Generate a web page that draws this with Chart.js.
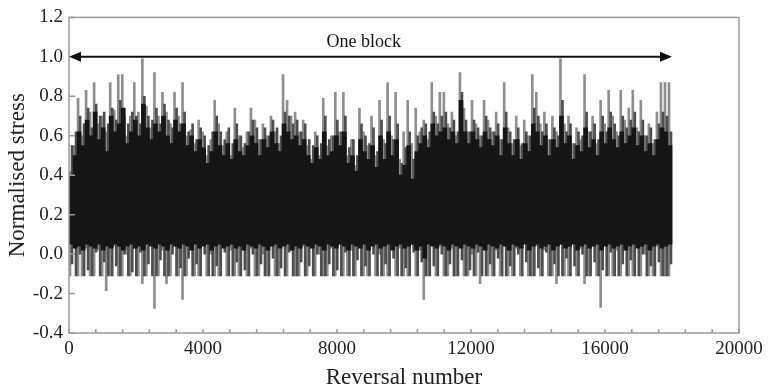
<!DOCTYPE html>
<html>
<head>
<meta charset="utf-8">
<script src="https://cdn.jsdelivr.net/npm/chart.js@4.4.0/dist/chart.umd.min.js"></script>
<style>
  html, body { margin: 0; padding: 0; background: #fff; }
  #wrap { width: 768px; height: 392px; }
</style>
</head>
<body>
<div id="wrap"><canvas id="stressChart"></canvas></div>
<script>
// Reversal history, in bins of 120 reversals (150 bins = one block)
const binSize = 120;

// extreme peak / trough reached in each bin (thin grey lines)
const peaks = [
  0.42, 0.55, 0.79, 0.60, 0.83, 0.72, 0.87, 0.66, 0.70, 0.62,
  0.87, 0.73, 0.91, 0.91, 0.60, 0.70, 0.87, 0.72, 0.99, 0.75,
  0.64, 0.92, 0.70, 0.82, 0.72, 0.66, 0.82, 0.70, 0.87, 0.60,
  0.63, 0.56, 0.68, 0.62, 0.50, 0.58, 0.78, 0.66, 0.55, 0.62,
  0.50, 0.74, 0.60, 0.54, 0.62, 0.74, 0.68, 0.58, 0.66, 0.60,
  0.70, 0.62, 0.56, 0.91, 0.78, 0.70, 0.72, 0.62, 0.68, 0.55,
  0.48, 0.62, 0.50, 0.79, 0.55, 0.60, 0.82, 0.62, 0.82, 0.50,
  0.58, 0.45, 0.74, 0.62, 0.55, 0.70, 0.50, 0.78, 0.58, 0.87,
  0.60, 0.82, 0.48, 0.62, 0.78, 0.56, 0.74, 0.62, 0.68, 0.58,
  0.87, 0.70, 0.82, 0.82, 0.66, 0.72, 0.60, 0.92, 0.74, 0.62,
  0.78, 0.66, 0.60, 0.78, 0.68, 0.62, 0.72, 0.58, 0.87, 0.64,
  0.56, 0.70, 0.55, 0.68, 0.60, 0.91, 0.82, 0.66, 0.72, 0.58,
  0.70, 0.62, 0.99, 0.66, 0.70, 0.56, 0.64, 0.58, 0.91, 0.62,
  0.70, 0.56, 0.78, 0.66, 0.83, 0.70, 0.62, 0.83, 0.68, 0.74,
  0.83, 0.64, 0.78, 0.60, 0.66, 0.56, 0.72, 0.87, 0.87, 0.87
];
const troughs = [
  -0.11, 0.04, -0.11, -0.11, 0.03, -0.11, -0.11, 0.02, -0.11, -0.185,
  -0.11, 0.04, -0.11, -0.11, 0.00, -0.11, 0.03, -0.11, -0.15, -0.11,
  0.05, -0.275, -0.11, 0.02, -0.15, -0.11, 0.04, -0.11, -0.23, -0.11,
  0.03, -0.11, -0.11, 0.05, -0.11, 0.00, -0.11, -0.11, 0.04, -0.11,
  0.02, -0.11, -0.11, 0.05, -0.11, 0.03, -0.11, -0.11, 0.00, -0.11,
  0.04, -0.11, -0.11, 0.05, -0.11, 0.02, -0.11, -0.11, 0.04, -0.11,
  0.05, -0.11, 0.00, -0.11, -0.11, 0.03, -0.11, 0.05, -0.11, -0.11,
  0.02, -0.11, 0.04, -0.11, -0.11, 0.05, -0.11, 0.00, -0.11, -0.11,
  0.04, -0.11, 0.03, -0.11, -0.11, 0.05, -0.11, 0.02, -0.23, -0.11,
  0.06, -0.11, 0.04, -0.11, -0.11, 0.03, -0.11, 0.05, -0.11, -0.11,
  0.00, -0.11, -0.15, 0.04, -0.11, -0.11, 0.02, -0.11, 0.05, -0.11,
  -0.11, 0.03, -0.11, 0.06, -0.11, -0.11, 0.04, -0.11, 0.02, -0.11,
  -0.11, -0.15, 0.05, -0.11, -0.11, 0.07, -0.11, 0.03, -0.15, -0.11,
  0.04, -0.11, -0.27, 0.05, -0.11, -0.11, 0.02, -0.11, 0.04, -0.11,
  -0.11, 0.05, -0.11, 0.00, -0.11, -0.11, 0.04, -0.11, -0.11, -0.11
];

// second-largest reversals in each bin (darker grey lines)
const upperMid = [
  0.55, 0.62, 0.70, 0.66, 0.74, 0.64, 0.76, 0.70, 0.72, 0.66,
  0.74, 0.68, 0.78, 0.70, 0.66, 0.72, 0.70, 0.66, 0.80, 0.70,
  0.68, 0.74, 0.66, 0.76, 0.68, 0.64, 0.74, 0.66, 0.72, 0.62,
  0.66, 0.58, 0.64, 0.60, 0.55, 0.62, 0.70, 0.62, 0.58, 0.64,
  0.56, 0.66, 0.60, 0.56, 0.62, 0.68, 0.64, 0.58, 0.64, 0.60,
  0.68, 0.64, 0.60, 0.72, 0.70, 0.66, 0.68, 0.62, 0.66, 0.58,
  0.55, 0.60, 0.56, 0.70, 0.58, 0.60, 0.68, 0.62, 0.70, 0.54,
  0.58, 0.50, 0.66, 0.60, 0.56, 0.64, 0.52, 0.68, 0.56, 0.70,
  0.58, 0.66, 0.46, 0.54, 0.62, 0.48, 0.60, 0.64, 0.66, 0.62,
  0.72, 0.66, 0.70, 0.72, 0.64, 0.68, 0.62, 0.82, 0.68, 0.62,
  0.68, 0.64, 0.60, 0.70, 0.64, 0.62, 0.66, 0.58, 0.72, 0.62,
  0.58, 0.64, 0.56, 0.62, 0.60, 0.74, 0.70, 0.62, 0.66, 0.58,
  0.64, 0.60, 0.78, 0.62, 0.66, 0.56, 0.62, 0.60, 0.72, 0.62,
  0.66, 0.58, 0.70, 0.62, 0.72, 0.66, 0.60, 0.70, 0.64, 0.68,
  0.72, 0.62, 0.68, 0.60, 0.64, 0.58, 0.66, 0.72, 0.70, 0.62
];
const lowerMid = [
  -0.05, -0.11, 0.00, -0.11, -0.08, -0.11, 0.01, -0.11, -0.04, -0.11,
  -0.11, -0.06, -0.11, 0.00, -0.11, -0.09, -0.11, 0.01, -0.11, -0.05,
  -0.11, -0.11, -0.03, -0.11, -0.11, 0.00, -0.11, -0.07, -0.11, -0.02,
  -0.11, -0.05, -0.11, 0.00, -0.11, -0.11, -0.06, -0.11, 0.01, -0.11,
  -0.11, -0.04, -0.11, -0.08, -0.11, 0.00, -0.11, -0.05, -0.11, -0.11,
  -0.02, -0.11, -0.07, -0.11, 0.01, -0.11, -0.11, -0.04, -0.11, -0.06,
  -0.11, 0.00, -0.11, -0.11, -0.05, -0.11, -0.08, -0.11, 0.01, -0.11,
  -0.11, -0.03, -0.11, -0.06, -0.11, 0.00, -0.11, -0.11, -0.05, -0.11,
  -0.02, -0.11, -0.11, -0.07, -0.11, 0.01, -0.11, -0.04, -0.11, -0.11,
  -0.06, -0.11, 0.00, -0.11, -0.05, -0.11, -0.11, -0.03, -0.11, -0.08,
  -0.11, 0.01, -0.11, -0.11, -0.05, -0.11, -0.02, -0.11, -0.11, -0.06,
  -0.11, 0.00, -0.11, -0.04, -0.11, -0.11, -0.07, -0.11, 0.01, -0.11,
  -0.05, -0.11, -0.11, -0.02, -0.11, -0.06, -0.11, 0.00, -0.11, -0.11,
  -0.04, -0.11, -0.08, -0.11, 0.01, -0.11, -0.11, -0.05, -0.11, -0.03,
  -0.11, -0.11, 0.00, -0.11, -0.06, -0.11, -0.04, -0.11, -0.11, -0.05
];

// dense black core of each bin
const coreHigh = [
  0.40, 0.50, 0.62, 0.55, 0.68, 0.60, 0.72, 0.58, 0.64, 0.52,
  0.70, 0.62, 0.66, 0.74, 0.56, 0.62, 0.68, 0.60, 0.76, 0.64,
  0.58, 0.66, 0.62, 0.70, 0.60, 0.56, 0.68, 0.62, 0.66, 0.55,
  0.60, 0.52, 0.58, 0.54, 0.46, 0.52, 0.62, 0.55, 0.50, 0.56,
  0.48, 0.58, 0.52, 0.50, 0.55, 0.60, 0.56, 0.50, 0.58, 0.54,
  0.62, 0.56, 0.52, 0.66, 0.62, 0.58, 0.60, 0.55, 0.58, 0.50,
  0.46, 0.54, 0.48, 0.62, 0.50, 0.52, 0.60, 0.55, 0.62, 0.46,
  0.50, 0.42, 0.58, 0.52, 0.48, 0.55, 0.44, 0.60, 0.48, 0.62,
  0.50, 0.58, 0.40, 0.45, 0.55, 0.38, 0.52, 0.56, 0.60, 0.54,
  0.66, 0.60, 0.62, 0.64, 0.58, 0.62, 0.56, 0.78, 0.62, 0.56,
  0.62, 0.58, 0.54, 0.62, 0.58, 0.55, 0.60, 0.50, 0.64, 0.56,
  0.50, 0.58, 0.48, 0.56, 0.52, 0.66, 0.62, 0.55, 0.60, 0.50,
  0.58, 0.54, 0.70, 0.56, 0.60, 0.48, 0.55, 0.52, 0.64, 0.54,
  0.58, 0.50, 0.62, 0.56, 0.64, 0.58, 0.54, 0.62, 0.56, 0.60,
  0.64, 0.55, 0.60, 0.52, 0.56, 0.50, 0.58, 0.64, 0.62, 0.55
];
const coreLow = [
  0.05, 0.03, 0.04, 0.02, 0.05, 0.04, 0.03, 0.05, 0.02, 0.04,
  0.03, 0.05, 0.04, 0.02, 0.04, 0.05, 0.03, 0.04, 0.02, 0.05,
  0.04, 0.03, 0.05, 0.04, 0.02, 0.05, 0.04, 0.03, 0.05, 0.04,
  0.02, 0.05, 0.03, 0.04, 0.05, 0.02, 0.04, 0.05, 0.03, 0.04,
  0.05, 0.03, 0.04, 0.02, 0.05, 0.04, 0.03, 0.05, 0.04, 0.02,
  0.04, 0.05, 0.03, 0.04, 0.05, 0.02, 0.04, 0.03, 0.05, 0.04,
  0.03, 0.05, 0.04, 0.02, 0.05, 0.04, 0.03, 0.05, 0.04, 0.02,
  0.05, 0.04, 0.03, 0.05, 0.02, 0.04, 0.05, 0.03, 0.04, 0.05,
  0.02, 0.04, 0.05, 0.03, 0.04, 0.05, 0.02, 0.04, -0.02, 0.05,
  0.04, 0.03, 0.05, 0.04, 0.02, 0.05, 0.04, 0.03, 0.05, 0.04,
  0.03, 0.05, 0.04, 0.02, 0.05, 0.04, 0.03, 0.05, 0.04, 0.02,
  0.05, 0.04, 0.03, 0.05, 0.02, 0.04, 0.05, 0.03, 0.04, 0.05,
  0.02, 0.04, 0.05, 0.03, 0.04, 0.05, 0.02, 0.04, 0.05, 0.03,
  0.04, 0.05, 0.02, 0.04, 0.05, 0.03, 0.04, 0.05, 0.02, 0.04,
  0.05, 0.03, 0.04, 0.05, 0.02, 0.04, 0.05, 0.03, 0.04, 0.05
];

const blockEnd = 18000;
const blockLabel = 'One block';
const serif = '"Liberation Serif", "Times New Roman", serif';

const bars = (hi, lo, shift) => hi.map((h, i) => ({ x: i * binSize + shift, y: [lo[i], h] }));

// frame, inward ticks and the "one block" arrow
const decorations = {
  id: 'decorations',
  afterDraw(chart) {
    const { ctx, chartArea: a, scales: { x, y } } = chart;
    ctx.save();
    ctx.strokeStyle = '#9a9a9a';
    ctx.lineWidth = 1.5;
    ctx.strokeRect(a.left, a.top, a.right - a.left, a.bottom - a.top);
    ctx.beginPath();
    x.ticks.forEach(t => {
      const px = x.getPixelForValue(t.value);
      ctx.moveTo(px, a.bottom);
      ctx.lineTo(px, a.bottom - 4);
    });
    y.ticks.forEach(t => {
      const py = y.getPixelForValue(t.value);
      ctx.moveTo(a.left, py);
      ctx.lineTo(a.left + 6, py);
    });
    ctx.stroke();

    const ay = y.getPixelForValue(1.0);
    const x0 = x.getPixelForValue(0);
    const x1 = x.getPixelForValue(blockEnd);
    ctx.strokeStyle = '#111';
    ctx.fillStyle = '#111';
    ctx.lineWidth = 2;
    ctx.beginPath();
    ctx.moveTo(x0 + 8, ay);
    ctx.lineTo(x1 - 8, ay);
    ctx.stroke();
    ctx.beginPath();
    ctx.moveTo(x0, ay);
    ctx.lineTo(x0 + 12, ay - 5);
    ctx.lineTo(x0 + 12, ay + 5);
    ctx.closePath();
    ctx.moveTo(x1, ay);
    ctx.lineTo(x1 - 12, ay - 5);
    ctx.lineTo(x1 - 12, ay + 5);
    ctx.closePath();
    ctx.fill();

    ctx.font = '18px ' + serif;
    ctx.textAlign = 'center';
    ctx.textBaseline = 'middle';
    ctx.fillText(blockLabel, x.getPixelForValue(8800), y.getPixelForValue(1.075));
    ctx.restore();
  }
};

new Chart(document.getElementById('stressChart'), {
  type: 'bar',
  data: {
    datasets: [
      { data: bars(coreHigh, coreLow, binSize / 2), backgroundColor: '#161616', barThickness: 4 },
      { data: bars(upperMid, lowerMid, binSize * 0.75), backgroundColor: '#4e4e4e', barThickness: 2 },
      { data: bars(peaks, troughs, binSize * 0.25), backgroundColor: '#8e8e8e', barThickness: 2 }
    ]
  },
  options: {
    responsive: true,
    maintainAspectRatio: false,
    animation: false,
    layout: { padding: { top: 14, right: 29, left: 0, bottom: 0 } },
    datasets: { bar: { grouped: false, borderWidth: 0, borderSkipped: false } },
    plugins: {
      legend: { display: false },
      tooltip: { enabled: false }
    },
    scales: {
      x: {
        type: 'linear',
        min: 0,
        max: 20000,
        offset: false,
        grid: { display: false, drawTicks: false },
        border: { display: false },
        ticks: {
          stepSize: 800,
          autoSkip: false,
          maxRotation: 0,
          padding: 5,
          color: '#222',
          font: { family: serif, size: 19 },
          callback: v => (v % 4000 === 0 ? String(v) : '')
        },
        title: {
          display: true,
          text: 'Reversal number',
          color: '#222',
          font: { family: serif, size: 23 },
          padding: { top: 2, bottom: 0 }
        },
        afterFit: s => { s.height = 59; }
      },
      y: {
        min: -0.4,
        max: 1.2,
        grid: { display: false, drawTicks: false },
        border: { display: false },
        ticks: {
          stepSize: 0.2,
          padding: 6,
          color: '#222',
          font: { family: serif, size: 19 },
          callback: v => v.toFixed(1)
        },
        title: {
          display: true,
          text: 'Normalised stress',
          color: '#222',
          font: { family: serif, size: 23 },
          padding: { top: 4, bottom: 0 }
        },
        afterFit: s => { s.width = 69; }
      }
    }
  },
  plugins: [decorations]
});
</script>
</body>
</html>
